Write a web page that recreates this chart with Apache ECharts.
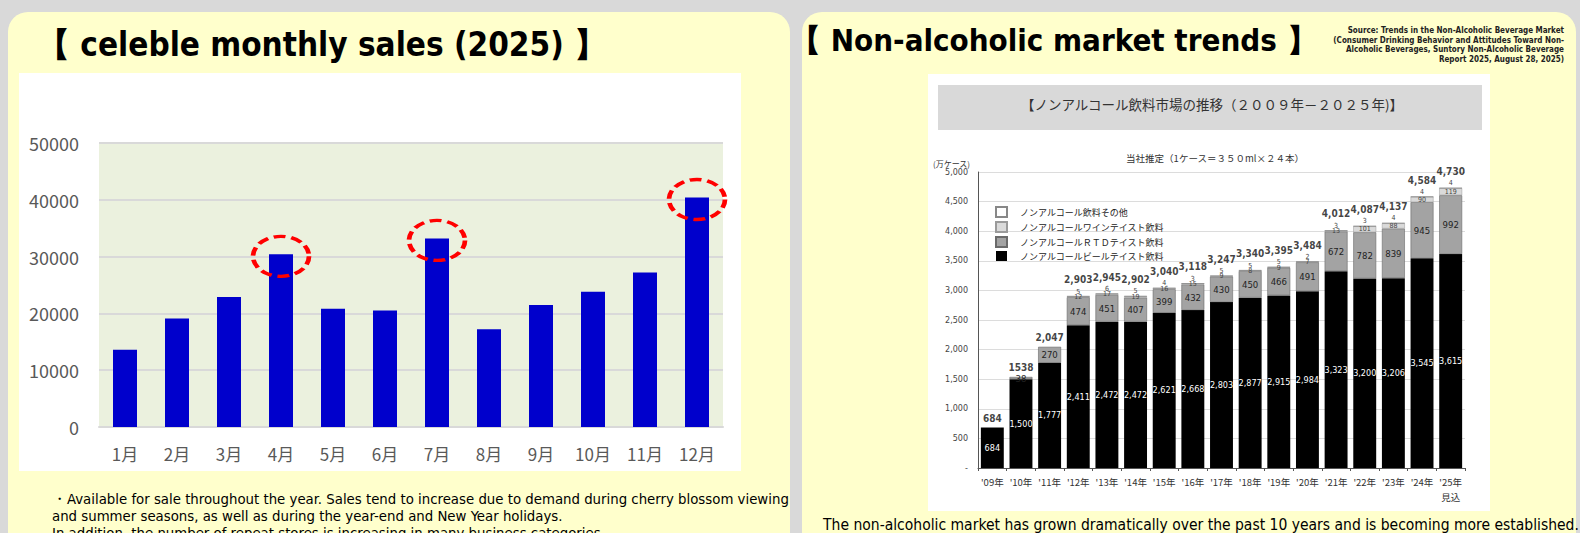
<!DOCTYPE html>
<html>
<head>
<meta charset="utf-8">
<script src="https://cdn.jsdelivr.net/npm/echarts@6/dist/echarts.min.js"></script>
<style>
html,body{margin:0;padding:0;background:#d9d9d9;}
#main{width:1580px;height:533px;}
</style>
</head>
<body>
<div id="main"></div>
<script>
// ---- Left chart data: celeble monthly sales (2025) ----
const months = ['1月','2月','3月','4月','5月','6月','7月','8月','9月','10月','11月','12月'];
const monthlySales = [13600, 19100, 22900, 30400, 20800, 20500, 33200, 17200, 21500, 23800, 27200, 40400];
const highlightMonths = ['4月', '7月', '12月'];

// ---- Right chart data: non-alcoholic beverage market (万ケース) ----
const years = ["'09年","'10年","'11年","'12年","'13年","'14年","'15年","'16年","'17年","'18年","'19年","'20年","'21年","'22年","'23年","'24年","'25年\n見込"];
const beerTaste = [684, 1500, 1777, 2411, 2472, 2472, 2621, 2668, 2803, 2877, 2915, 2984, 3323, 3200, 3206, 3545, 3615];
const rtdTaste  = ['-', 38, 270, 474, 451, 407, 399, 432, 430, 450, 466, 491, 672, 782, 839, 945, 992];
const wineTaste = ['-', '-', '-', 12, 17, 19, 16, 15, 9, 8, 9, 7, 13, 101, 88, 90, 119];
const otherNA   = ['-', '-', '-', 5, 6, 5, 4, 3, 5, 5, 5, 2, 3, 3, 4, 4, 4];
const totals    = [684, 1538, 2047, 2903, 2945, 2902, 3040, 3118, 3247, 3340, 3395, 3484, 4012, 4087, 4137, 4584, 4730];
const totalLabels = ['684','1538','2,047','2,903','2,945','2,902','3,040','3,118','3,247','3,340','3,395','3,484','4,012','4,087','4,137','4,584','4,730'];
const legendNames = ['ノンアルコール飲料その他','ノンアルコールワインテイスト飲料','ノンアルコールＲＴＤテイスト飲料','ノンアルコールビールテイスト飲料'];

const fmt = v => Number(v).toLocaleString('en-US');
const chart = echarts.init(document.getElementById('main'), null, {renderer: 'svg', width: 1580, height: 533});

const CJK = '"Noto Sans CJK JP", "Noto Sans", sans-serif';
const COND = '"DejaVu Sans Condensed", "DejaVu Sans", sans-serif';
const DJ = '"DejaVu Sans", sans-serif';

const option = {
  backgroundColor: '#d9d9d9',
  animation: false,
  graphic: [
    {type: 'rect', z: -20, shape: {x: 8, y: 12, width: 782, height: 560, r: 20}, style: {fill: '#ffffcc'}},
    {type: 'rect', z: -20, shape: {x: 802, y: 12, width: 774, height: 560, r: 20}, style: {fill: '#ffffcc'}},
    {type: 'rect', z: -19, shape: {x: 19, y: 73, width: 722, height: 398}, style: {fill: '#ffffff'}},
    {type: 'rect', z: -19, shape: {x: 928, y: 74, width: 562, height: 437}, style: {fill: '#ffffff'}},
    {type: 'rect', z: -18, shape: {x: 938, y: 85, width: 544, height: 45}, style: {fill: '#d9d9d9'}},
    {type: 'text', z: 10, x: 37, y: 44, style: {text: '【 celeble monthly sales (2025) 】', font: 'bold 33px ' + COND, fill: '#000', textVerticalAlign: 'middle'}},
    {type: 'text', z: 10, x: 790, y: 40, style: {text: '【 Non-alcoholic market trends 】', font: 'bold 31px ' + COND, fill: '#000', textVerticalAlign: 'middle'}},
    {type: 'text', z: 10, x: 1564, y: 26, style: {
      text: 'Source: Trends in the Non-Alcoholic Beverage Market\n(Consumer Drinking Behavior and Attitudes Toward Non-\nAlcoholic Beverages, Suntory Non-Alcoholic Beverage\nReport 2025, August 28, 2025)',
      font: 'bold 8px ' + COND, fill: '#222', textAlign: 'right', lineHeight: 9.5}},
    {type: 'text', z: 10, x: 52, y: 490, style: {
      text: '・Available for sale throughout the year. Sales tend to increase due to demand during cherry blossom viewing\nand summer seasons, as well as during the year-end and New Year holidays.\nIn addition, the number of repeat stores is increasing in many business categories.',
      font: '14.8px ' + COND, fill: '#000', lineHeight: 17}},
    {type: 'text', z: 10, x: 1201, y: 525, style: {
      text: 'The non-alcoholic market has grown dramatically over the past 10 years and is becoming more established.',
      font: '15.5px ' + COND, fill: '#000', textAlign: 'center', textVerticalAlign: 'middle'}},
    {type: 'text', z: 10, x: 1212, y: 104, style: {
      text: '【ノンアルコール飲料市場の推移（２００９年－２０２５年)】', font: '13.5px ' + CJK, fill: '#333', textAlign: 'center', textVerticalAlign: 'middle'}},
    {type: 'text', z: 10, x: 1215, y: 158, style: {
      text: '当社推定（1ケース＝３５０ml×２４本）', font: '9.5px ' + CJK, fill: '#333', textAlign: 'center', textVerticalAlign: 'middle'}}
  ],
  legend: {
    orient: 'vertical', left: 990, top: 201, itemWidth: 11, itemHeight: 10, itemGap: 3,
    data: legendNames, textStyle: {fontSize: 9, color: '#222', fontFamily: CJK, padding: [0, 0, 0, 8]},
    icon: 'rect'
  },
  grid: [
    {left: 99, top: 143, width: 624, height: 284, show: true, backgroundColor: '#ebf1de', borderWidth: 0},
    {left: 978, top: 172, width: 487, height: 296}
  ],
  xAxis: [
    {type: 'category', gridIndex: 0, data: months,
      axisLine: {lineStyle: {color: '#d9d9d9', width: 2}}, axisTick: {show: false},
      axisLabel: {color: '#595959', fontSize: 17, fontFamily: CJK, margin: 18}},
    {type: 'category', gridIndex: 1, data: years,
      axisLine: {lineStyle: {color: '#555'}}, axisTick: {show: true, length: 3, lineStyle: {color: '#555'}},
      axisLabel: {interval: 0, color: '#333', fontSize: 9.5, fontFamily: CJK, margin: 6, lineHeight: 15}}
  ],
  yAxis: [
    {type: 'value', gridIndex: 0, min: 0, max: 50000, interval: 10000,
      axisLine: {show: false}, axisTick: {show: false},
      splitLine: {lineStyle: {color: '#d9d9d9', width: 2}},
      axisLabel: {color: '#595959', fontSize: 18, fontFamily: CJK, margin: 20, formatter: v => String(v)}},
    {type: 'value', gridIndex: 1, min: 0, max: 5000, interval: 500,
      name: '(万ケース)', nameLocation: 'end', nameGap: 5,
      nameTextStyle: {fontSize: 8, color: '#333', fontFamily: CJK, align: 'right', padding: [0, 8, 0, 0]},
      axisLine: {show: true, lineStyle: {color: '#555'}}, axisTick: {show: false},
      splitLine: {lineStyle: {color: '#dcdcdc'}},
      axisLabel: {color: '#444', fontSize: 8, fontFamily: DJ, margin: 10,
        formatter: v => v === 0 ? '-' : fmt(v)}}
  ],
  series: [
    {type: 'bar', name: 'sales', xAxisIndex: 0, yAxisIndex: 0, data: monthlySales,
      barWidth: 24, itemStyle: {color: '#0000cc'},
      markPoint: {
        symbol: 'circle', symbolSize: [56, 40], symbolOffset: [0, 2],
        label: {show: false},
        itemStyle: {color: 'rgba(0,0,0,0)', borderColor: '#ff0000', borderWidth: 4, borderType: [10, 5]},
        data: highlightMonths.map(m => ({coord: [m, monthlySales[months.indexOf(m)]]}))
      }},
    {type: 'bar', name: legendNames[3], xAxisIndex: 1, yAxisIndex: 1, stack: 'mkt', data: beerTaste,
      barCategoryGap: '20%', itemStyle: {color: '#000'},
      label: {show: true, position: 'inside', color: '#fff', fontSize: 9, fontFamily: COND, formatter: p => fmt(p.value)}},
    {type: 'bar', name: legendNames[2], xAxisIndex: 1, yAxisIndex: 1, stack: 'mkt', data: rtdTaste,
      itemStyle: {color: '#a3a3a3', borderColor: '#6a6a6a', borderWidth: 0.6},
      label: {show: true, position: 'inside', color: '#222', fontSize: 9.5, fontFamily: COND}},
    {type: 'bar', name: legendNames[1], xAxisIndex: 1, yAxisIndex: 1, stack: 'mkt', data: wineTaste,
      itemStyle: {color: '#dadada', borderColor: '#9a9a9a', borderWidth: 0.5},
      label: {show: true, position: 'inside', color: '#444', fontSize: 7, fontFamily: COND}},
    {type: 'bar', name: legendNames[0], xAxisIndex: 1, yAxisIndex: 1, stack: 'mkt', data: otherNA,
      itemStyle: {color: '#ffffff', borderColor: '#888', borderWidth: 0.6},
      label: {show: true, position: 'top', distance: 1, color: '#444', fontSize: 7, fontFamily: COND}},
    {type: 'scatter', name: 'total', xAxisIndex: 1, yAxisIndex: 1, symbolSize: 1,
      itemStyle: {color: 'rgba(0,0,0,0)'}, silent: true,
      data: totals.map((v, i) => ({value: v, label: {distance: otherNA[i] === '-' ? 4 : 11}})),
      label: {show: true, position: 'top', color: '#111', fontSize: 10, fontWeight: 'bold', fontFamily: COND,
        formatter: p => totalLabels[p.dataIndex]}}
  ]
};
chart.setOption(option);
</script>
</body>
</html>
